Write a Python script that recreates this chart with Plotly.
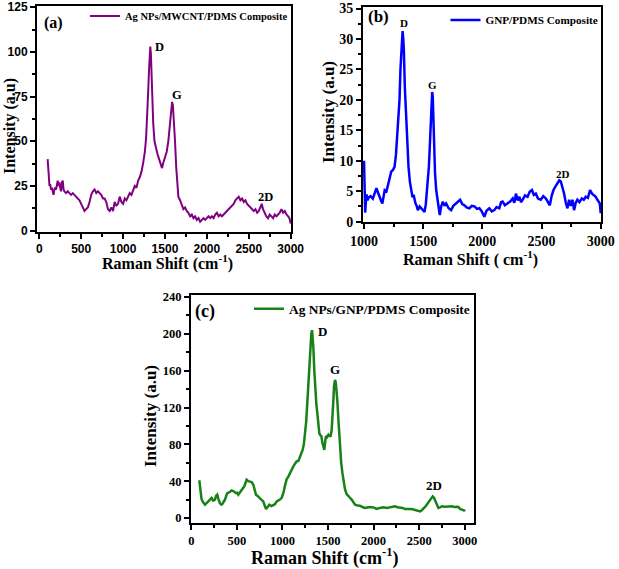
import plotly.graph_objects as go

W, H = 619, 569

# ---------------- data ----------------
a_x = [100,108,115,122,130,140,150,160,170,180,190,200,210,220,230,240,250,260,270,280,290,300,320,340,360,380,400,420,440,460,480,500,520,540,560,580,600,620,640,660,680,700,720,740,760,780,800,820,840,860,880,900,920,940,960,980,1000,1020,1040,1060,1080,1100,1120,1140,1160,1180,1200,1220,1240,1260,1275,1290,1300,1310,1318,1325,1332,1340,1350,1360,1375,1390,1410,1430,1450,1465,1480,1500,1520,1540,1555,1565,1575,1585,1595,1605,1620,1635,1650,1660,1680,1700,1720,1740,1760,1780,1800,1820,1840,1860,1880,1900,1920,1940,1960,1980,2000,2020,2040,2060,2080,2100,2120,2140,2160,2180,2200,2220,2240,2260,2280,2300,2320,2340,2360,2380,2400,2420,2440,2460,2480,2500,2520,2540,2560,2580,2600,2620,2640,2655,2670,2690,2710,2730,2750,2770,2790,2810,2830,2850,2870,2890,2910,2930,2950,2970,2985,3000]
a_y = [40,33,27,25,26,23,24,21,20,23,24,23,26,28,25,27,24,22,27,28,23,22,21,22,21,20,21,20,19,18,17,15,13,11,12,13,16,20,22,23,21,22,21,20,18,18,16,12,11,13,11,16,14,15,19,16,15,18,17,19,21,20,23,25,24,28,30,33,38,44,52,65,78,90,100,103,99,88,72,60,50,46,43,40,37,35,38,41,44,50,58,66,71,72,70,64,50,35,25,19,17,15,12,13,11,10,8,9,7,8,6,7,5,6,7,6,7,8,7,8,7,9,10,8,9,8,9,10,11,12,13,14,15,17,18,19,17,18,16,17,15,14,13,12,11,12,10,11,13,15,12,10,8,7,9,8,7,9,8,9,10,12,10,11,9,8,7,4]

b_x = [1000,1004,1010,1020,1030,1040,1055,1075,1090,1105,1118,1130,1145,1155,1165,1175,1190,1200,1215,1230,1245,1258,1270,1282,1292,1300,1308,1317,1326,1332,1337,1345,1357,1366,1376,1388,1400,1410,1419,1428,1435,1445,1455,1470,1483,1498,1511,1522,1531,1540,1548,1554,1559,1565,1570,1576,1581,1587,1593,1600,1610,1620,1629,1640,1652,1666,1680,1694,1715,1736,1755,1778,1795,1812,1830,1848,1870,1890,1910,1933,1955,1975,1995,2017,2035,2059,2080,2101,2120,2143,2158,2171,2190,2213,2235,2256,2270,2284,2298,2312,2326,2340,2360,2382,2400,2419,2435,2452,2470,2494,2515,2537,2555,2570,2585,2601,2618,2635,2650,2663,2677,2691,2705,2719,2733,2747,2761,2775,2789,2803,2820,2840,2857,2874,2892,2910,2927,2944,2958,2972,2985,2992,3000]
b_y = [10,5,1.5,4.5,3.5,4,4.2,3.8,4.6,5.5,4.8,4,3.4,3,4.5,5.2,5,5.7,7.2,8.2,8.5,9,11,14,17,20,25,29.8,31.3,30,28,22,17,12,9,6.5,4.6,4,4.4,3.5,3,2.6,1.9,2.5,2.2,1.8,1.6,2.8,4.6,6.5,9,11.5,14.5,18,21,21.3,20.5,16,11.8,8,5.2,3.5,2.5,1.1,2.5,3.3,2.6,3,2.2,1.9,2.6,3,3.4,3.6,2.9,2.7,2.3,2.2,2.6,2.5,2.1,2.2,1.7,0.8,1.8,2.2,1.7,1.9,2.4,2.2,3.2,3.3,2.7,3,3.3,3.8,3.1,4.6,3.5,4.1,3.2,3.6,4.3,4.1,4.9,5.2,4.4,4.6,3.8,3.6,4.2,3.8,3.1,2.7,4.2,5.2,5.8,6.4,6.8,6.6,5.6,4.6,3.1,2.2,3.6,2.6,3.6,1.9,3.1,3.6,3.2,3.8,3.6,4.1,3.9,5.2,4.6,4.4,4.1,3.6,3.3,3,1.4]

c_x = [88,95,102,112,124,136,150,165,187,205,223,240,260,272,285,300,315,330,344,357,370,383,395,420,443,465,490,503,516,535,553,568,582,595,607,625,644,662,681,695,710,728,746,768,790,805,820,838,856,878,900,918,937,955,973,992,1010,1028,1046,1065,1083,1101,1120,1138,1156,1175,1193,1208,1222,1235,1248,1261,1273,1284,1295,1303,1310,1317,1325,1332,1339,1350,1361,1372,1383,1394,1405,1416,1427,1438,1449,1455,1460,1468,1478,1490,1504,1516,1529,1540,1551,1559,1566,1571,1577,1586,1595,1604,1614,1623,1632,1645,1658,1672,1687,1705,1723,1741,1760,1778,1797,1824,1851,1878,1906,1933,1961,1998,2034,2071,2108,2145,2181,2208,2236,2263,2291,2318,2345,2372,2400,2428,2455,2482,2510,2528,2547,2565,2583,2601,2620,2635,2649,2663,2678,2694,2711,2730,2748,2775,2803,2830,2858,2885,2913,2931,2949,2967,2986,2994,3000]
c_y = [41,33,27,21,18,16,14.5,16,18,20,21.7,19,20,24,25.3,20,16,14.5,15.5,18,20,24,27,28,30,29,27,27.5,25.3,28,30.8,32,34.4,38,41.6,40,39.8,39,36.2,32,25.3,24,21.7,20,18,14,9.8,12,14.5,13,14.5,15,18,19,20,22,27,35,42,45,49,53,56,59,61.5,62,67,70,74,80,92,105,125,145,168,185,197,200,204,197,186,160,136,124,114,102,92,90,89,82,76,74,74,82,89,88,90.5,89,89,95,110,128,143,148,150,147,139,125,107,90,74,60,49,38,31,26,23.5,22,20,17,14.5,13.5,13.4,12,11,11.5,12,11.5,10,11,11.6,11,12,12.5,12.7,11.8,11.6,11,9.8,10.2,9.8,9.5,9,8,7.2,8.5,9.8,12,14.5,17,20,22.5,23.5,22,18,14,11,11.5,12.7,12.2,12,12.5,12.7,12,12.3,12,10,9,8.5,8.3,7,3.6]

# ---------------- helpers ----------------
def fx(px):
    return px / W

def fy(py):
    return 1 - py / H

SERIF = "Liberation Serif"
SANS = "Liberation Sans"
BLACK = "black"

fig = go.Figure()
fig.add_trace(go.Scatter(x=a_x, y=a_y, mode="lines", name="Ag NPs/MWCNT/PDMS Composite",
                         line=dict(color="#800080", width=2), xaxis="x", yaxis="y", legend="legend"))
fig.add_trace(go.Scatter(x=b_x, y=b_y, mode="lines", name="GNP/PDMS Composite",
                         line=dict(color="#0000ff", width=2.5), xaxis="x2", yaxis="y2", legend="legend2"))
fig.add_trace(go.Scatter(x=c_x, y=c_y, mode="lines", name="Ag NPs/GNP/PDMS Composite",
                         line=dict(color="#178217", width=2.5), xaxis="x3", yaxis="y3", legend="legend3"))

def axis(domain, rng, dtick, minor_dtick, anchor, tickfont, tick0=0):
    return dict(domain=domain, range=rng, anchor=anchor, dtick=dtick, tick0=tick0,
                automargin=False, showline=True, linecolor=BLACK, linewidth=2, mirror=True,
                ticks="outside", ticklen=5, tickwidth=2, tickcolor=BLACK,
                minor=dict(dtick=minor_dtick, ticks="outside", ticklen=3, tickwidth=1.5, tickcolor=BLACK),
                showgrid=False, zeroline=False, tickfont=tickfont)

fa = dict(family=SANS, size=12, color=BLACK, weight="bold")
fb = dict(family=SERIF, size=14, color=BLACK, weight="bold")
fc = dict(family=SERIF, size=12.5, color=BLACK, weight="bold")

layout = dict(
    template="none",
    width=W, height=H, margin=dict(l=0, r=0, t=0, b=0, autoexpand=False),
    paper_bgcolor="white", plot_bgcolor="white",
    xaxis=axis([fx(37), fx(291)], [-27, 3004], 500, 250, "y", fa),
    yaxis=axis([fy(231.7), fy(6)], [-0.6, 125.7], 25, 12.5, "x", fa),
    xaxis2=axis([fx(363), fx(601)], [991.5, 3002.5], 500, 250, "y2", fb),
    yaxis2=axis([fy(222.3), fy(7.3)], [-0.1, 35.2], 5, 2.5, "x2", fb),
    xaxis3=axis([fx(191), fx(474)], [-3, 3102], 500, 250, "y3", fc),
    yaxis3=axis([fy(523), fy(295)], [-5.4, 242.2], 40, 20, "x3", fc),
)

def leg(xpx, ypx, size):
    return dict(x=fx(xpx), y=fy(ypx), xanchor="right", yanchor="middle",
                bgcolor="rgba(0,0,0,0)", borderwidth=0, itemwidth=30,
                font=dict(family=SERIF, size=size, color=BLACK, weight="bold"))

layout["legend"] = leg(293, 16, 10.5)
layout["legend2"] = leg(603.5, 20, 11.2)
layout["legend3"] = leg(475, 309, 13.4)
layout["showlegend"] = True
fig.update_layout(**layout)

ann = []
def txt(x, y, s, size, xref="paper", yref="paper", angle=0):
    ann.append(dict(x=x, y=y, text=s, xref=xref, yref=yref, showarrow=False,
                    xanchor="center", yanchor="middle", textangle=angle,
                    font=dict(family=SERIF, size=size, color=BLACK, weight="bold")))

# axis titles
txt(fx(167), fy(262), "Raman Shift (cm<sup>-1</sup>)", 16)
txt(fx(10), fy(126), "Intensity (a.u)", 16, angle=-90)
txt(fx(470), fy(258), "Raman Shift ( cm<sup>-1</sup>)", 16)
txt(fx(328), fy(112), "Intensity (a.u)", 17, angle=-90)
txt(fx(325), fy(557), "Raman Shift (cm<sup>-1</sup>)", 18)
txt(fx(150), fy(416), "Intensity (a.u)", 17, angle=-90)

# panel labels
txt(fx(53), fy(23), "(a)", 16)
txt(fx(378), fy(16), "(b)", 17)
txt(fx(205), fy(311), "(c)", 18)

# peak labels
for s, x, y in [("D", 1432, 102.5), ("G", 1647, 76), ("2D", 2694, 19)]:
    txt(x, y, s, 12.5, "x", "y")
for s, x, y in [("D", 1334, 32.7), ("G", 1576, 22.5), ("2D", 2683, 7.9)]:
    txt(x, y, s, 11, "x2", "y2")
for s, x, y in [("D", 1442, 203), ("G", 1577, 161), ("2D", 2667, 35)]:
    txt(x, y, s, 13, "x3", "y3")

fig.update_layout(annotations=ann)
fig.write_html("out.html", config={"displayModeBar": False},
               post_script="document.body.style.margin='0px';")
